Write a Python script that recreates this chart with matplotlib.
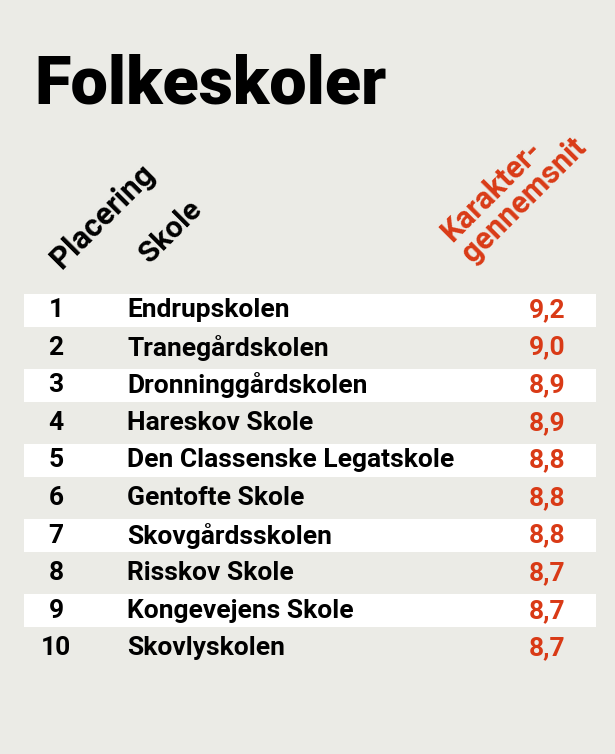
import matplotlib
matplotlib.use("Agg")
import matplotlib.pyplot as plt

# data
title = "Folkeskoler"
placering = ["1", "2", "3", "4", "5", "6", "7", "8", "9", "10"]
skoler = ["Endrupskolen", "Tranegårdskolen", "Dronninggårdskolen", "Hareskov Skole",
          "Den Classenske Legatskole", "Gentofte Skole", "Skovgårdsskolen",
          "Risskov Skole", "Kongevejens Skole", "Skovlyskolen"]
snit = ["9,2", "9,0", "8,9", "8,9", "8,8", "8,8", "8,8", "8,7", "8,7", "8,7"]

bg = "#ebebe6"
red = "#d93a16"
fam = ["Roboto", "DejaVu Sans"]

fig = plt.figure(figsize=(6.15, 7.54), dpi=100, facecolor=bg)
ax = fig.add_axes([0, 0, 1, 1])
ax.set_xlim(0, 615)
ax.set_ylim(754, 0)
ax.axis("off")

# row positions
y0, pitch = 310, 37.6
ys = [y0 + i * pitch for i in range(len(skoler))]

# white stripes on every other row
ax.barh(ys[::2], width=572, left=24, height=33, color="white", zorder=0)

ax.text(34, 103, title, fontsize=48, fontweight="black", family=fam,
        ha="left", va="baseline")

# headers
ax.text(62, 270, "Placering", fontsize=22.5, fontweight="bold", family=fam,
        rotation=45, rotation_mode="anchor", ha="left", va="baseline")
ax.text(150, 264, "Skole", fontsize=21.5, fontweight="bold", family=fam,
        rotation=45, rotation_mode="anchor", ha="left", va="baseline")
ax.text(473, 264, "Karakter-\ngennemsnit", fontsize=22, fontweight="bold", family=fam,
        color=red, rotation=45, rotation_mode="anchor", ha="left", va="baseline",
        linespacing=1.0)

fs = 19
for y, p, s, v in zip(ys, placering, skoler, snit):
    ax.text(56, y, p, fontsize=fs, fontweight="bold", family=fam, ha="center", va="center")
    ax.text(127, y, s, fontsize=fs, fontweight="bold", family=fam, ha="left", va="center")
    ax.text(565, y, v, fontsize=fs, fontweight="bold", family=fam, color=red,
            ha="right", va="center")

fig.savefig("out.png", dpi=100, facecolor=bg)
